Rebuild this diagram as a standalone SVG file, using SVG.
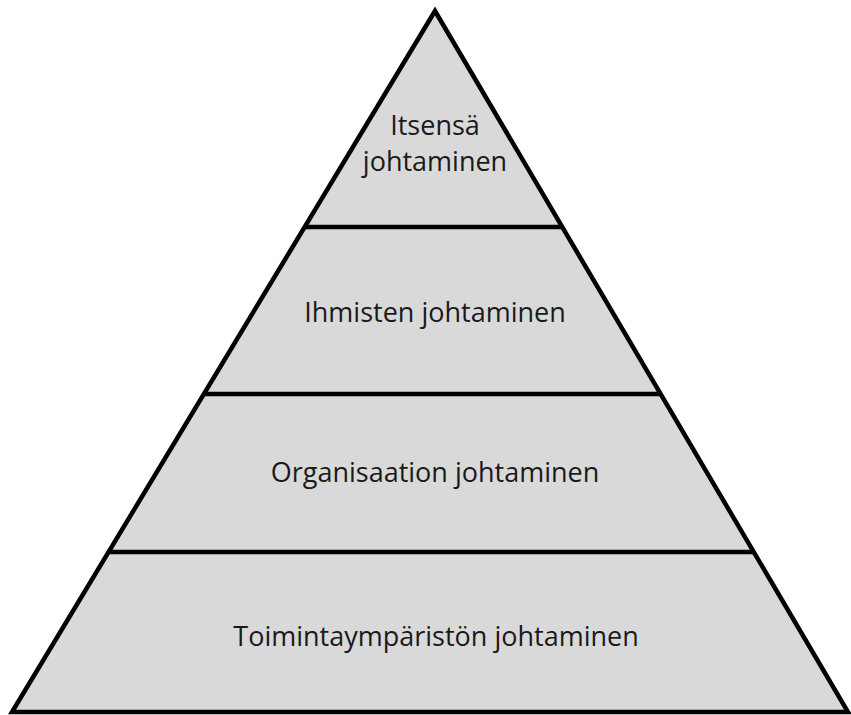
<svg xmlns="http://www.w3.org/2000/svg" width="851" height="715" viewBox="0 0 851 715">
  <style>
    .tier { fill: #d9d9d9; stroke: none; }
    .edge { fill: none; stroke: #000; stroke-width: 4.5; stroke-linejoin: miter; }
    .divider { stroke: #000; stroke-width: 4.5; }
    .label { font-family: "Open Sans", "Liberation Sans", sans-serif; font-size: 27px; fill: #1a1a1a; text-anchor: middle; }
  </style>
  <rect x="0" y="0" width="851" height="715" fill="#ffffff"/>

  <!-- pyramid body -->
  <g id="pyramid">
    <polygon class="tier" points="435,11 848,712 12,712"/>
  </g>

  <!-- tier dividers and outline -->
  <g id="connectors">
    <line class="divider" x1="305" y1="227" x2="562" y2="227"/>
    <line class="divider" x1="204" y1="394" x2="661" y2="394"/>
    <line class="divider" x1="109" y1="552" x2="754" y2="552"/>
    <polygon class="edge" points="435,11 848,712 12,712"/>
  </g>

  <g id="tier-itsensa">
    <text class="label" x="435" y="135">Itsensä</text>
    <text class="label" x="435" y="171">johtaminen</text>
  </g>
  <g id="tier-ihmisten">
    <text class="label" x="435" y="322">Ihmisten johtaminen</text>
  </g>
  <g id="tier-organisaation">
    <text class="label" x="435" y="482">Organisaation johtaminen</text>
  </g>
  <g id="tier-toimintaymparisto">
    <text class="label" x="436" y="646">Toimintaympäristön johtaminen</text>
  </g>
</svg>
